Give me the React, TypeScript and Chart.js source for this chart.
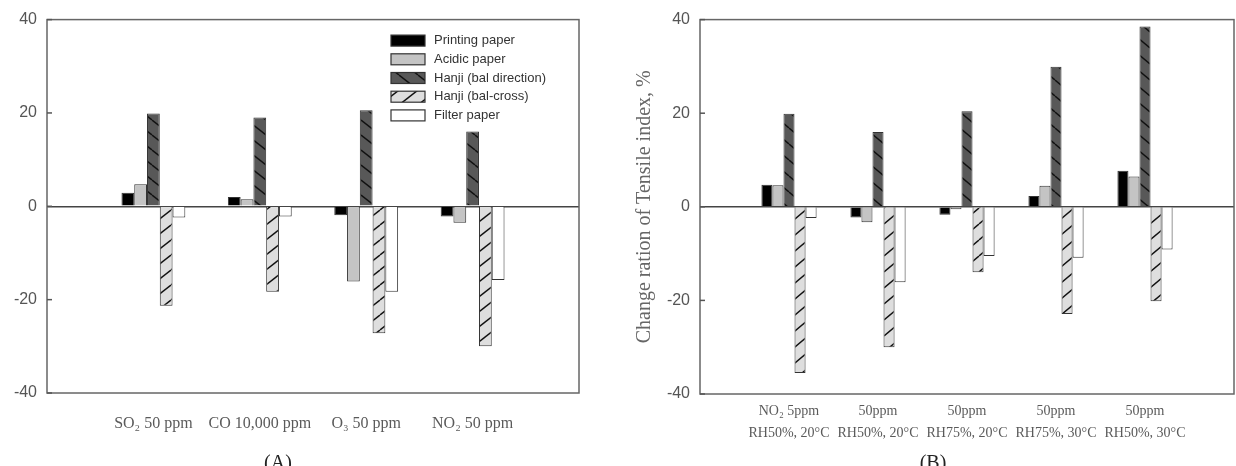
import React, { useEffect, useRef } from 'react';
import { Chart, registerables } from 'chart.js';

Chart.register(...registerables);

// ---- data ----
const SERIES = ['Printing paper', 'Acidic paper', 'Hanji (bal direction)', 'Hanji (bal-cross)', 'Filter paper'];

// (A) exposure to single gases
const gasCategories = ['SO₂ 50 ppm', 'CO 10,000 ppm', 'O₃ 50 ppm', 'NO₂ 50 ppm'];
const gasPrinting = [2.9, 2.0, -1.9, -2.2];
const gasAcidic = [4.7, 1.5, -16.1, -3.5];
const gasBalDirection = [19.9, 19.0, 20.6, 16.0];
const gasBalCross = [-21.3, -18.3, -27.2, -30.0];
const gasFilter = [-2.4, -2.2, -18.3, -15.8];

// (B) NO2 exposure at different humidity / temperature
const envCategories = [
  ['NO₂ 5ppm', 'RH50%, 20°C'],
  ['50ppm', 'RH50%, 20°C'],
  ['50ppm', 'RH75%, 20°C'],
  ['50ppm', 'RH75%, 30°C'],
  ['50ppm', 'RH50%, 30°C'],
];
const envPrinting = [4.7, -2.3, -1.7, 2.3, 7.7];
const envAcidic = [4.6, -3.3, -0.5, 4.5, 6.5];
const envBalDirection = [19.9, 16.0, 20.4, 29.9, 38.5];
const envBalCross = [-35.5, -30.0, -14.0, -22.9, -20.2];
const envFilter = [-2.4, -16.1, -10.5, -10.9, -9.1];

const yTicks = [-40, -20, 0, 20, 40];
const yTitle = 'Change ration of Tensile index, %';

// ---- styling helpers ----
const SANS = "'Liberation Sans', Arial, sans-serif";
const SERIF = "'Liberation Serif', 'Times New Roman', serif";

function hatch(fill: string, dir: 'back' | 'fwd', w: number, h: number): CanvasPattern | string {
  const c = document.createElement('canvas');
  c.width = w;
  c.height = h;
  const g = c.getContext('2d');
  if (!g) return fill;
  g.fillStyle = fill;
  g.fillRect(0, 0, w, h);
  g.strokeStyle = '#111';
  g.lineWidth = 1.4;
  for (const off of [-h, 0, h]) {
    g.beginPath();
    if (dir === 'back') {
      g.moveTo(0, off);
      g.lineTo(w, off + h);
    } else {
      g.moveTo(0, off + h);
      g.lineTo(w, off);
    }
    g.stroke();
  }
  return g.createPattern(c, 'repeat') ?? fill;
}

function buildDatasets(values: number[][], hw: number, hh: number) {
  const fills = [
    '#000000',
    '#c4c4c4',
    hatch('#585858', 'back', hw, hh),
    hatch('#dedede', 'fwd', hw, hh),
    '#ffffff',
  ];
  return SERIES.map((name, i) => ({
    label: name,
    data: [null, ...values[i], null],
    backgroundColor: fills[i],
    borderColor: '#333',
    borderWidth: 1,
  }));
}

// box around the plot area plus short inward ticks on the value axis
const framePlugin = {
  id: 'frame',
  afterDatasetsDraw(chart: any) {
    const { ctx, chartArea: a } = chart;
    const y = chart.scales.y;
    ctx.save();
    ctx.strokeStyle = '#666';
    ctx.lineWidth = 1.5;
    ctx.strokeRect(a.left, a.top, a.right - a.left, a.bottom - a.top);
    ctx.strokeStyle = '#555';
    y.ticks.forEach((t: any) => {
      const py = y.getPixelForValue(t.value);
      ctx.beginPath();
      ctx.moveTo(a.left, py);
      ctx.lineTo(a.left + 5, py);
      ctx.stroke();
    });
    ctx.restore();
  },
};

// legend drawn inside the plot area, top right
const innerLegendPlugin = {
  id: 'innerLegend',
  afterDraw(chart: any) {
    const { ctx, chartArea: a } = chart;
    const x0 = a.right - 188;
    const y0 = a.top + 21;
    const step = 18.7;
    ctx.save();
    ctx.font = `13px ${SANS}`;
    ctx.textBaseline = 'middle';
    chart.data.datasets.forEach((ds: any, i: number) => {
      const cy = y0 + i * step;
      ctx.fillStyle = ds.backgroundColor;
      ctx.fillRect(x0, cy - 5.5, 34, 11);
      ctx.strokeStyle = '#333';
      ctx.lineWidth = 1.2;
      ctx.strokeRect(x0, cy - 5.5, 34, 11);
      ctx.fillStyle = '#333';
      ctx.fillText(ds.label, x0 + 43, cy);
    });
    ctx.restore();
  },
};

function makeConfig(
  categories: (string | string[])[],
  values: number[][],
  opts: {
    hw: number;
    hh: number;
    catPct: number;
    padRight: number;
    yWidth: number;
    xHeight: number;
    xPad: number;
    xFont: number;
    withLegend: boolean;
    withTitle: boolean;
  }
): any {
  return {
    type: 'bar',
    data: {
      labels: ['', ...categories, ''],
      datasets: buildDatasets(values, opts.hw, opts.hh),
    },
    options: {
      responsive: false,
      animation: false,
      layout: { padding: { top: 10, right: opts.padRight, left: 0, bottom: 0 } },
      datasets: { bar: { categoryPercentage: opts.catPct, barPercentage: 1 } },
      plugins: { legend: { display: false }, tooltip: { enabled: false } },
      scales: {
        x: {
          offset: false,
          grid: { display: false },
          border: { display: false },
          ticks: {
            autoSkip: false,
            maxRotation: 0,
            padding: opts.xPad,
            color: '#5a5a5a',
            font: { family: SERIF, size: opts.xFont, lineHeight: '22px' },
          },
          afterFit: (s: any) => {
            s.height = opts.xHeight;
          },
        },
        y: {
          min: yTicks[0],
          max: yTicks[yTicks.length - 1],
          afterBuildTicks: (s: any) => {
            s.ticks = yTicks.map((v) => ({ value: v }));
          },
          border: { display: false },
          grid: {
            drawTicks: false,
            lineWidth: 1.5,
            color: (c: any) => (c.tick && c.tick.value === 0 ? '#444' : 'rgba(0,0,0,0)'),
          },
          ticks: {
            padding: 10,
            color: '#555',
            font: { family: SANS, size: 16 },
          },
          title: {
            display: opts.withTitle,
            text: yTitle,
            color: '#666',
            font: { family: SERIF, size: 20 },
            padding: { top: 15, bottom: 0 },
          },
          afterFit: (s: any) => {
            s.width = opts.yWidth;
          },
        },
      },
    },
    plugins: opts.withLegend ? [framePlugin, innerLegendPlugin] : [framePlugin],
  };
}

export default function App() {
  const refA = useRef<HTMLCanvasElement>(null);
  const refB = useRef<HTMLCanvasElement>(null);

  useEffect(() => {
    if (!refA.current || !refB.current) return;
    const a = new Chart(
      refA.current,
      makeConfig(gasCategories, [gasPrinting, gasAcidic, gasBalDirection, gasBalCross, gasFilter], {
        hw: 19,
        hh: 15,
        catPct: 0.6,
        padRight: 39,
        yWidth: 47,
        xHeight: 73,
        xPad: 12,
        xFont: 16,
        withLegend: true,
        withTitle: false,
      })
    );
    const b = new Chart(
      refB.current,
      makeConfig(envCategories, [envPrinting, envAcidic, envBalDirection, envBalCross, envFilter], {
        hw: 19,
        hh: 16,
        catPct: 0.62,
        padRight: 2,
        yWidth: 82,
        xHeight: 72,
        xPad: -2,
        xFont: 14,
        withLegend: false,
        withTitle: true,
      })
    );
    return () => {
      a.destroy();
      b.destroy();
    };
  }, []);

  const panelLabel: React.CSSProperties = {
    position: 'absolute',
    top: 452,
    width: 60,
    textAlign: 'center',
    fontFamily: SERIF,
    fontSize: 20,
    lineHeight: '20px',
    color: '#222',
  };

  return (
    <div style={{ position: 'absolute', left: 0, top: 0, width: 1236, height: 466, overflow: 'hidden', background: '#fff' }}>
      <canvas ref={refA} width={618} height={466} style={{ position: 'absolute', left: 0, top: 0, width: 618, height: 466 }} />
      <canvas ref={refB} width={618} height={466} style={{ position: 'absolute', left: 618, top: 0, width: 618, height: 466 }} />
      <div style={{ ...panelLabel, left: 278 - 30 }}>(A)</div>
      <div style={{ ...panelLabel, left: 933 - 30 }}>(B)</div>
    </div>
  );
}
